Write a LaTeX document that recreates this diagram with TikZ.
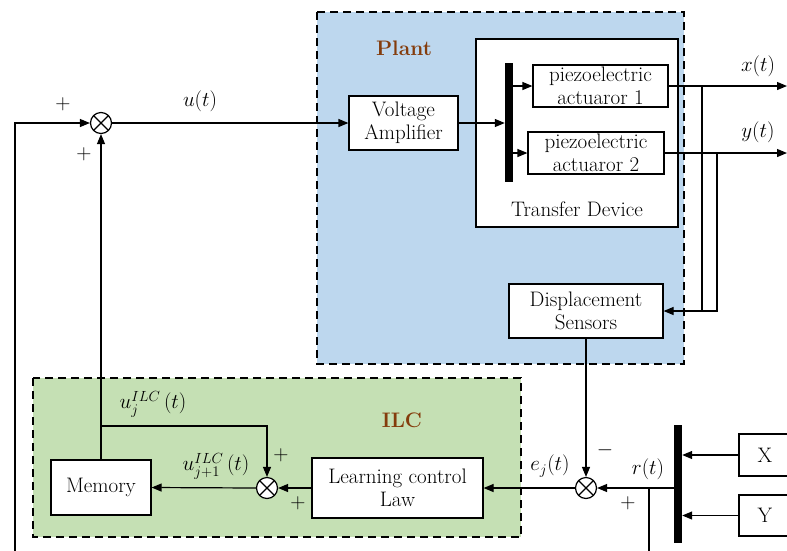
\RequirePackage{fix-cm}
\documentclass[tikz,border=0pt]{standalone}
\usetikzlibrary{arrows.meta}
\definecolor{plantblue}{RGB}{189,215,238}
\definecolor{ilcgreen}{RGB}{197,224,180}
\definecolor{lblbrown}{RGB}{132,60,12}
\newcommand{\fsz}{\fontsize{21}{23}\selectfont}
\tikzset{
  every node/.style={font=\fsz},
  blk/.style={draw, line width=1.2pt, fill=white, inner sep=0pt, align=center},
  sumj/.style={circle, draw, line width=1.2pt, fill=white, minimum size=21pt, inner sep=0pt,
    path picture={\draw[line width=1.2pt] (path picture bounding box.north west) -- (path picture bounding box.south east)
      (path picture bounding box.north east) -- (path picture bounding box.south west);}},
  thickbar/.style={fill=black, inner sep=0pt, minimum width=8pt},
  regionbox/.style={line width=2.8pt, dash pattern=on 8pt off 5pt},
  conn/.style={line width=1.2pt},
  arr/.style={line width=1.2pt, -{Triangle[length=10pt,width=8pt]}},
  regionlbl/.style={font=\fsz\bfseries, text=lblbrown},
}
\begin{document}
\begin{tikzpicture}[x=1pt,y=-1pt]
\useasboundingbox[fill=white] (0,0) rectangle (787,550);
% regions
\draw[regionbox, fill=plantblue] (317,12) rectangle (684,364);
\draw[regionbox, fill=ilcgreen] (33,378) rectangle (521,537);
\draw[line width=2.6pt, fill=white] (476,39) rectangle (678,227);
% labels of regions
\node[regionlbl] (plantlbl) at (404,48) {Plant};
\node[regionlbl] (ilclbl) at (402,420) {ILC};
\node (tdlbl) at (577,209) {Transfer Device};
% blocks
\node[sumj] (s1) at (101,123) {};
\node[blk, minimum width=109pt, minimum height=54pt] (va) at (403.5,123) {Voltage\\Amplifier};
\node[thickbar, minimum height=119pt] (bar1) at (509,122.5) {};
\node[blk, minimum width=135pt, minimum height=42pt] (p1) at (600.5,86) {piezoelectric\\actuaror 1};
\node[blk, minimum width=136pt, minimum height=42pt] (p2) at (596,153) {piezoelectric\\actuaror 2};
\node[blk, minimum width=154pt, minimum height=54pt] (ds) at (586,311) {Displacement\\Sensors};
\node[sumj] (s2) at (586,488) {};
\node[thickbar, minimum height=118pt] (bar2) at (678,484) {};
\node[blk, minimum width=52pt, minimum height=42pt] (xb) at (765,455) {X};
\node[blk, minimum width=52pt, minimum height=41pt] (yb) at (765,515.5) {Y};
\node[blk, minimum width=171pt, minimum height=60pt] (lcl) at (397.5,488) {Learning control\\Law};
\node[sumj] (s3) at (267,488) {};
\node[blk, minimum width=100pt, minimum height=55pt] (mem) at (101,487.5) {Memory};
% coordinates
\coordinate (lb) at (15,552);
\coordinate (br) at (101,426);
\coordinate (xo) at (787,86);
\coordinate (yo) at (787,153);
\coordinate (bx) at (702,86);
\coordinate (by) at (717,153);
\coordinate (rd) at (649,552);
% connectors
\draw[arr] (lb) |- (s1.west);
\draw[arr] (mem.north) -- (s1.south);
\draw[arr] (br) -| (s3.north);
\draw[arr] (s1.east) -- (va.west);
\draw[arr] (va.east) -- (va.east -| bar1.west);
\draw[arr] (bar1.east |- p1.west) -- (p1.west);
\draw[arr] (bar1.east |- p2.west) -- (p2.west);
\draw[arr] (p1.east) -- (xo);
\draw[arr] (p2.east) -- (yo);
\draw[conn] (bx) -- (bx |- ds.east);
\draw[arr] (by) |- (ds.east);
\draw[arr] (ds.south) -- (s2.north);
\draw[arr] (xb.west) -- (xb.west -| bar2.east);
\draw[arr] (yb.west) -- (yb.west -| bar2.east);
\draw[arr] (bar2.west |- s2.east) -- (s2.east);
\draw[conn] (rd |- s2.east) -- (rd);
\draw[arr] (s2.west) -- (lcl.east);
\draw[arr] (lcl.west) -- (s3.east);
\draw[arr] (s3.west) -- (mem.east);
% signal labels
\node (ut) at (200,101) {$u(t)$};
\node (xt) at (758,66) {$x(t)$};
\node (yt) at (758,132) {$y(t)$};
\node (pl1) at (63,104) {$+$};
\node (pl2) at (84,154) {$+$};
\node (uj) at (153,404) {$u_j^{ILC}\,(t)$};
\node (uj1) at (216,466) {$u_{j+1}^{ILC}\,(t)$};
\node (pl3) at (281,455) {$+$};
\node (pl4) at (298,503) {$+$};
\node (ejt) at (550,466) {$e_j(t)$};
\node (mn) at (605,450) {$-$};
\node (rt) at (648,469) {$r(t)$};
\node (pl5) at (628,503) {$+$};
\end{tikzpicture}
\end{document}
